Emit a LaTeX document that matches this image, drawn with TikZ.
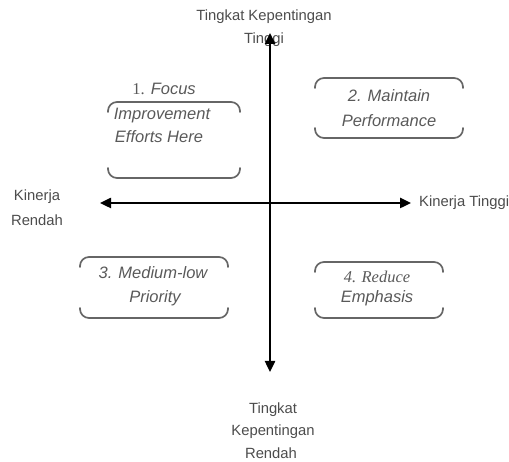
\documentclass[tikz,border=0pt]{standalone}
\usepackage{fontspec}
\setmainfont{Liberation Sans}
\newfontfamily\serifnum{Liberation Serif}
\usetikzlibrary{arrows.meta}

\begin{document}
\begin{tikzpicture}[x=1pt, y=-1pt]
        % ================= 样式定义 =================
        \tikzset{
            % 坐标轴:黑色粗线,两端三角箭头
            axis_line/.style={line width=2.4pt, black, {Triangle[length=11pt,width=10pt]}-{Triangle[length=11pt,width=10pt]}},
            % 象限框:只有上下两条带圆角的灰线
            bracket_line/.style={line width=1.7pt, black!60, line cap=round, rounded corners=9pt},
            % 轴标签
            axis_label/.style={font=\fontsize{14.8}{17}\selectfont, text=black!70, inner sep=0pt},
            % 象限文字
            box_text/.style={font=\fontsize{16.5}{19}\selectfont\itshape, text=black!65, inner sep=0pt}
        }
        \useasboundingbox (0,0) rectangle (509,462);

        % ================= 轴标签 =================
        \node[axis_label] (imp_high_a) at (264,17) {Tingkat Kepentingan};
        \node[axis_label] (imp_high_b) at (264,40) {Tinggi};
        \node[axis_label] (perf_low_a) at (37,197) {Kinerja};
        \node[axis_label] (perf_low_b) at (37,220) {Rendah};
        \node[axis_label, anchor=west] (perf_high) at (419,203) {Kinerja Tinggi};
        \node[axis_label] (imp_low_a) at (273,410) {Tingkat};
        \node[axis_label] (imp_low_b) at (273,432) {Kepentingan};
        \node[axis_label] (imp_low_c) at (271,453) {Rendah};

        % ================= 坐标轴 =================
        \coordinate (ax_top) at (270,33);
        \coordinate (ax_bottom) at (270,372);
        \coordinate (ax_left) at (100,203);
        \coordinate (ax_right) at (411,203);
        \draw[axis_line] (ax_bottom) -- (ax_top);
        \draw[axis_line] (ax_left) -- (ax_right);

        % ================= 象限框 (x/y/宽/高) =================
        \foreach \bx/\by/\bw/\bh in {108/102/132/76, 315/78/148/60, 80/257/148/61, 315/262/128/56} {
            \draw[bracket_line] (\bx,{\by+10}) -- (\bx,\by) -- ({\bx+\bw},\by) -- ({\bx+\bw},{\by+10});
            \draw[bracket_line] (\bx,{\by+\bh-10}) -- (\bx,{\by+\bh}) -- ({\bx+\bw},{\by+\bh}) -- ({\bx+\bw},{\by+\bh-10});
        }

        % ================= 象限文字 =================
        \node[box_text] (q1_title) at (164,89) {{\serifnum\upshape 1.} Focus};
        \node[box_text] (q1_line_a) at (162,116) {Improvement};
        \node[box_text] (q1_line_b) at (159,137) {Efforts Here};

        \node[box_text] (q2_line_a) at (389,96) {2. Maintain};
        \node[box_text] (q2_line_b) at (389,121) {Performance};

        \node[box_text] (q3_line_a) at (153,273) {3. Medium-low};
        \node[box_text] (q3_line_b) at (155,298) {Priority};

        \node[box_text, font=\fontsize{16.5}{19}\selectfont\serifnum\itshape] (q4_line_a) at (377,277) {4. Reduce};
        \node[box_text] (q4_line_b) at (377,298) {Emphasis};

\end{tikzpicture}
\end{document}
